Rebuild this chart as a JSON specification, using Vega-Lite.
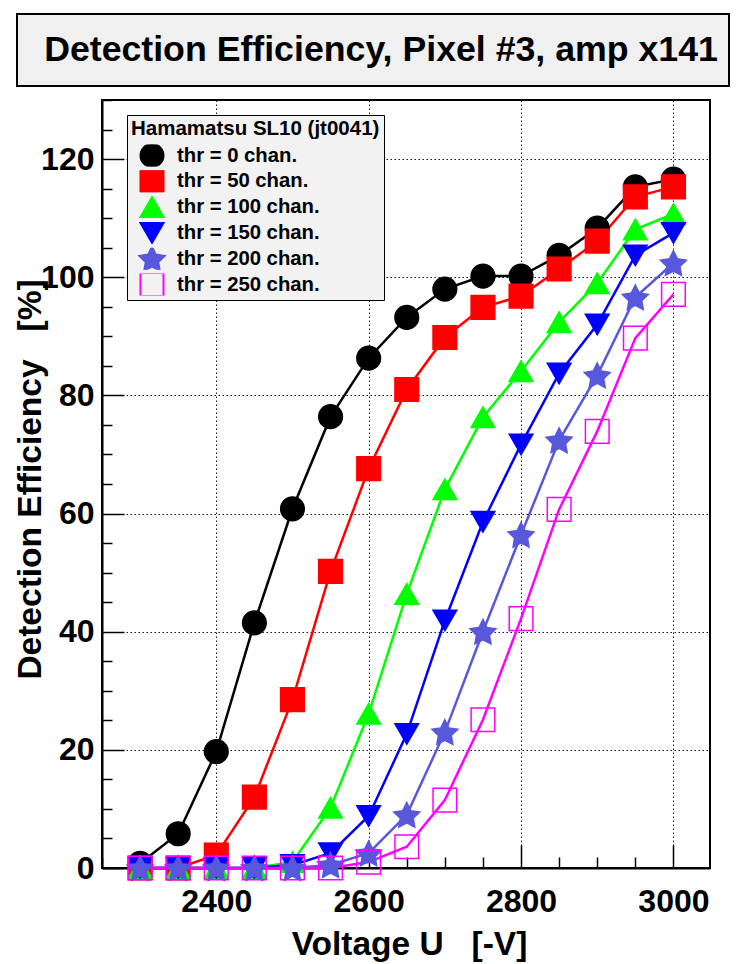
{
  "$schema": "https://vega.github.io/schema/vega-lite/v6.json",
  "padding": {"left": 13, "top": 13, "right": 5, "bottom": 0},
  "background": "white",
  "spacing": 11,
  "config": {
    "font": "Liberation Sans",
    "axis": {
      "labelFont": "Liberation Sans", "labelFontWeight": "bold", "labelFontSize": 32, "labelColor": "#000",
      "titleFont": "Liberation Sans", "titleFontWeight": "bold", "titleFontSize": 33.5, "titleColor": "#000",
      "domainColor": "#000", "domainWidth": 2, "tickColor": "#000", "tickWidth": 1.5,
      "gridColor": "#000", "gridDash": [1.5, 2.5], "gridWidth": 1, "gridOpacity": 0.9,
      "labelFlush": false, "labelOverlap": false
    },
    "legend": {
      "orient": "none", "legendX": 110, "legendY": 101,
      "fillColor": "#f2f2f2", "strokeColor": "#000", "padding": 4,
      "titleFont": "Liberation Sans", "titleFontSize": 20.5, "titleFontWeight": "bold", "titleColor": "#000", "titlePadding": 5, "titleLimit": 0,
      "labelFont": "Liberation Sans", "labelFontSize": 20.3, "labelFontWeight": "bold", "labelColor": "#000", "labelLimit": 0,
      "symbolSize": 530, "symbolStrokeWidth": 2, "rowPadding": 3.8, "clipHeight": 22, "labelOffset": 12, "symbolOffset": 8
    }
  },
  "datasets": {
    "eff": [
      {"series": "thr = 0 chan.", "U": 2300, "eff": 0.8},
      {"series": "thr = 0 chan.", "U": 2350, "eff": 5.8},
      {"series": "thr = 0 chan.", "U": 2400, "eff": 19.7},
      {"series": "thr = 0 chan.", "U": 2450, "eff": 41.5},
      {"series": "thr = 0 chan.", "U": 2500, "eff": 60.8},
      {"series": "thr = 0 chan.", "U": 2550, "eff": 76.4},
      {"series": "thr = 0 chan.", "U": 2600, "eff": 86.3},
      {"series": "thr = 0 chan.", "U": 2650, "eff": 93.2},
      {"series": "thr = 0 chan.", "U": 2700, "eff": 98.0},
      {"series": "thr = 0 chan.", "U": 2750, "eff": 100.2},
      {"series": "thr = 0 chan.", "U": 2800, "eff": 100.2},
      {"series": "thr = 0 chan.", "U": 2850, "eff": 103.7},
      {"series": "thr = 0 chan.", "U": 2900, "eff": 108.3},
      {"series": "thr = 0 chan.", "U": 2950, "eff": 115.3},
      {"series": "thr = 0 chan.", "U": 3000, "eff": 116.6},
      {"series": "thr = 50 chan.", "U": 2300, "eff": 0},
      {"series": "thr = 50 chan.", "U": 2350, "eff": 0},
      {"series": "thr = 50 chan.", "U": 2400, "eff": 2.2},
      {"series": "thr = 50 chan.", "U": 2450, "eff": 12.0},
      {"series": "thr = 50 chan.", "U": 2500, "eff": 28.5},
      {"series": "thr = 50 chan.", "U": 2550, "eff": 50.2},
      {"series": "thr = 50 chan.", "U": 2600, "eff": 67.6},
      {"series": "thr = 50 chan.", "U": 2650, "eff": 81.0},
      {"series": "thr = 50 chan.", "U": 2700, "eff": 89.8},
      {"series": "thr = 50 chan.", "U": 2750, "eff": 94.9},
      {"series": "thr = 50 chan.", "U": 2800, "eff": 96.8},
      {"series": "thr = 50 chan.", "U": 2850, "eff": 101.4},
      {"series": "thr = 50 chan.", "U": 2900, "eff": 106.1},
      {"series": "thr = 50 chan.", "U": 2950, "eff": 113.6},
      {"series": "thr = 50 chan.", "U": 3000, "eff": 115.3},
      {"series": "thr = 100 chan.", "U": 2300, "eff": 0},
      {"series": "thr = 100 chan.", "U": 2350, "eff": 0},
      {"series": "thr = 100 chan.", "U": 2400, "eff": 0},
      {"series": "thr = 100 chan.", "U": 2450, "eff": 0},
      {"series": "thr = 100 chan.", "U": 2500, "eff": 1.0},
      {"series": "thr = 100 chan.", "U": 2550, "eff": 10.2},
      {"series": "thr = 100 chan.", "U": 2600, "eff": 26.1},
      {"series": "thr = 100 chan.", "U": 2650, "eff": 46.4},
      {"series": "thr = 100 chan.", "U": 2700, "eff": 64.1},
      {"series": "thr = 100 chan.", "U": 2750, "eff": 76.3},
      {"series": "thr = 100 chan.", "U": 2800, "eff": 84.1},
      {"series": "thr = 100 chan.", "U": 2850, "eff": 92.4},
      {"series": "thr = 100 chan.", "U": 2900, "eff": 99.0},
      {"series": "thr = 100 chan.", "U": 2950, "eff": 108.1},
      {"series": "thr = 100 chan.", "U": 3000, "eff": 110.7},
      {"series": "thr = 150 chan.", "U": 2300, "eff": 0},
      {"series": "thr = 150 chan.", "U": 2350, "eff": 0},
      {"series": "thr = 150 chan.", "U": 2400, "eff": 0},
      {"series": "thr = 150 chan.", "U": 2450, "eff": 0},
      {"series": "thr = 150 chan.", "U": 2500, "eff": 0.5},
      {"series": "thr = 150 chan.", "U": 2550, "eff": 2.5},
      {"series": "thr = 150 chan.", "U": 2600, "eff": 8.8},
      {"series": "thr = 150 chan.", "U": 2650, "eff": 22.7},
      {"series": "thr = 150 chan.", "U": 2700, "eff": 41.9},
      {"series": "thr = 150 chan.", "U": 2750, "eff": 58.6},
      {"series": "thr = 150 chan.", "U": 2800, "eff": 71.7},
      {"series": "thr = 150 chan.", "U": 2850, "eff": 83.7},
      {"series": "thr = 150 chan.", "U": 2900, "eff": 92.0},
      {"series": "thr = 150 chan.", "U": 2950, "eff": 103.7},
      {"series": "thr = 150 chan.", "U": 3000, "eff": 107.5},
      {"series": "thr = 200 chan.", "U": 2300, "eff": 0},
      {"series": "thr = 200 chan.", "U": 2350, "eff": 0},
      {"series": "thr = 200 chan.", "U": 2400, "eff": 0},
      {"series": "thr = 200 chan.", "U": 2450, "eff": 0},
      {"series": "thr = 200 chan.", "U": 2500, "eff": 0},
      {"series": "thr = 200 chan.", "U": 2550, "eff": 0.5},
      {"series": "thr = 200 chan.", "U": 2600, "eff": 2.5},
      {"series": "thr = 200 chan.", "U": 2650, "eff": 9.0},
      {"series": "thr = 200 chan.", "U": 2700, "eff": 23.0},
      {"series": "thr = 200 chan.", "U": 2750, "eff": 40.0},
      {"series": "thr = 200 chan.", "U": 2800, "eff": 56.4},
      {"series": "thr = 200 chan.", "U": 2850, "eff": 72.4},
      {"series": "thr = 200 chan.", "U": 2900, "eff": 83.4},
      {"series": "thr = 200 chan.", "U": 2950, "eff": 96.6},
      {"series": "thr = 200 chan.", "U": 3000, "eff": 102.4},
      {"series": "thr = 250 chan.", "U": 2300, "eff": 0},
      {"series": "thr = 250 chan.", "U": 2350, "eff": 0},
      {"series": "thr = 250 chan.", "U": 2400, "eff": 0},
      {"series": "thr = 250 chan.", "U": 2450, "eff": 0},
      {"series": "thr = 250 chan.", "U": 2500, "eff": 0},
      {"series": "thr = 250 chan.", "U": 2550, "eff": 0},
      {"series": "thr = 250 chan.", "U": 2600, "eff": 1.0},
      {"series": "thr = 250 chan.", "U": 2650, "eff": 3.6},
      {"series": "thr = 250 chan.", "U": 2700, "eff": 11.5},
      {"series": "thr = 250 chan.", "U": 2750, "eff": 25.1},
      {"series": "thr = 250 chan.", "U": 2800, "eff": 42.2},
      {"series": "thr = 250 chan.", "U": 2850, "eff": 60.7},
      {"series": "thr = 250 chan.", "U": 2900, "eff": 73.9},
      {"series": "thr = 250 chan.", "U": 2950, "eff": 89.7},
      {"series": "thr = 250 chan.", "U": 3000, "eff": 97.1}
    ]
  },
  "vconcat": [
    {
      "width": 712,
      "height": 72,
      "view": {"fill": "#f0f0f0", "stroke": "#000", "strokeWidth": 2},
      "data": {"values": [{"title": "Detection Efficiency, Pixel #3, amp x141"}]},
      "mark": {"type": "text", "font": "Liberation Sans", "fontSize": 35.7, "fontWeight": "bold", "color": "#000", "dx": 8, "baseline": "middle", "align": "center"},
      "encoding": {"text": {"field": "title", "type": "nominal"}}
    },
    {
      "spacing": 0,
      "hconcat": [
        {
          "width": 83,
          "height": 768,
          "view": {"stroke": null, "fill": null},
          "data": {"name": "eff"},
          "mark": {"type": "point", "opacity": 0},
          "encoding": {
            "y": {"field": "eff", "type": "quantitative",
              "scale": {"domain": [0, 130], "nice": false, "zero": false},
              "axis": {"orient": "left", "offset": -83, "values": [0, 20, 40, 60, 80, 100, 120], "format": "d", "ticks": false, "domain": false, "grid": false, "labelPadding": 6,
                "title": "Detection Efficiency\u00a0\u00a0\u00a0[%]", "titleX": -60, "titleY": 379, "titleBaseline": "alphabetic", "titleAlign": "center", "titleAngle": 270}}
          }
        },
        {
          "width": 608,
          "height": 768,
          "view": {"fill": "white", "stroke": "#000", "strokeWidth": 2},
          "data": {"name": "eff"},
          "resolve": {"axis": {"x": "independent", "y": "independent"}},
          "layer": [
            {
              "mark": {"type": "line", "strokeWidth": 2.5},
              "encoding": {
                "x": {"field": "U", "type": "quantitative",
                  "scale": {"domain": [2250, 3048], "nice": false, "zero": false},
                  "axis": {"orient": "bottom", "values": [2400, 2600, 2800, 3000], "format": "d", "tickSize": -23, "labelPadding": 41, "labelBaseline": "top", "grid": true,
                    "title": "Voltage U\u00a0\u00a0\u00a0[-V]", "titleX": 307, "titleY": 86, "titleBaseline": "alphabetic", "titleAlign": "center"}},
                "y": {"field": "eff", "type": "quantitative",
                  "scale": {"domain": [0, 130], "nice": false, "zero": false},
                  "axis": {"orient": "left", "values": [0, 20, 40, 60, 80, 100, 120], "tickSize": -22, "labels": false, "grid": true, "title": null}},
                "stroke": {"field": "series", "type": "nominal", "title": "Hamamatsu SL10 (jt0041)",
                  "scale": {"domain": ["thr = 0 chan.", "thr = 50 chan.", "thr = 100 chan.", "thr = 150 chan.", "thr = 200 chan.", "thr = 250 chan."],
                    "range": ["#000000", "#ff0000", "#00ff00", "#0000ff", "#5858dd", "#ff00ff"]}}
              }
            },
            {
              "mark": {"type": "point", "opacity": 1, "strokeWidth": 1.5, "size": 560},
              "encoding": {
                "x": {"field": "U", "type": "quantitative",
                  "axis": {"orient": "bottom", "values": [2250, 2300, 2350, 2450, 2500, 2550, 2650, 2700, 2750, 2850, 2900, 2950], "tickSize": -11, "labels": false, "grid": false, "domain": false, "title": null}},
                "y": {"field": "eff", "type": "quantitative",
                  "axis": {"orient": "left", "values": [5, 10, 15, 25, 30, 35, 45, 50, 55, 65, 70, 75, 85, 90, 95, 105, 110, 115, 125, 130], "tickSize": -10, "labels": false, "grid": false, "domain": false, "title": null}},
                "stroke": {"field": "series", "type": "nominal", "title": "Hamamatsu SL10 (jt0041)"},
                "fill": {"field": "series", "type": "nominal", "title": "Hamamatsu SL10 (jt0041)",
                  "scale": {"domain": ["thr = 0 chan.", "thr = 50 chan.", "thr = 100 chan.", "thr = 150 chan.", "thr = 200 chan.", "thr = 250 chan."],
                    "range": ["#000000", "#ff0000", "#00ff00", "#0000ff", "#5858dd", "transparent"]}},
                "shape": {"field": "series", "type": "nominal", "title": "Hamamatsu SL10 (jt0041)",
                  "scale": {"domain": ["thr = 0 chan.", "thr = 50 chan.", "thr = 100 chan.", "thr = 150 chan.", "thr = 200 chan.", "thr = 250 chan."],
                    "range": ["circle", "square", "triangle-up", "triangle-down", "M0,-1.04L0.338,-0.355L1.094,-0.245L0.547,0.288L0.676,1.04L0,0.685L-0.676,1.04L-0.547,0.288L-1.094,-0.245L-0.338,-0.355Z", "square"]}}
              }
            }
          ]
        }
      ]
    }
  ]
}
